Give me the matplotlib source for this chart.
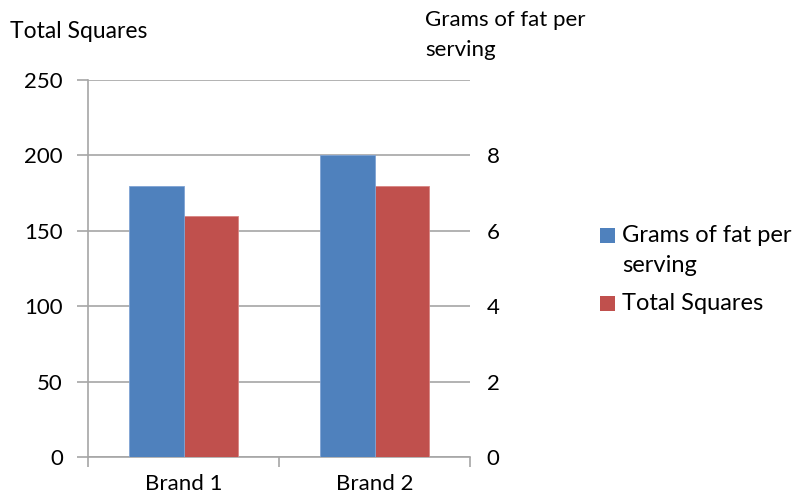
import matplotlib
matplotlib.use("Agg")
import matplotlib.pyplot as plt
from matplotlib.patches import Rectangle
import numpy as np

plt.rcParams['font.family'] = ['Lato', 'DejaVu Sans']

categories = ["Brand 1", "Brand 2"]
fat_grams = [7.2, 8.0]
total_squares = [160, 180]
left_ticks = [0, 50, 100, 150, 200, 250]
right_ticks = [0, 2, 4, 6, 8]
series_names = ["Grams of fat per\nserving", "Total Squares"]

blue = "#4F81BD"
red = "#C0504D"
grid_c = "#A6A6A6"
fs = 16
W, H = 794, 503

fig = plt.figure(figsize=(7.94, 5.03), dpi=100)
ax = fig.add_axes([88/W, 1-457/H, (470-88)/W, (457-80)/H])
ax2 = ax.twinx()

x = np.arange(len(categories))
w = 0.283
b1 = ax2.bar(x - w/2, fat_grams, w, color=blue, edgecolor="#7FA3D4", linewidth=0.6, zorder=3)
b2 = ax.bar(x + w/2, total_squares, w, color=red, edgecolor="#D98583", linewidth=0.6, zorder=3)

ax.set_xlim(-0.5, 1.5)
ax.set_ylim(0, 250)
ax.set_yticks(left_ticks)
ax.yaxis.grid(True, color=grid_c, linewidth=1.2, zorder=0)
ax.set_axisbelow(True)
ax2.set_ylim(0, 10)
ax2.set_yticks(right_ticks)

for a in (ax, ax2):
    for s in ("top", "right"):
        a.spines[s].set_visible(False)
ax2.spines["left"].set_visible(False)
ax2.spines["bottom"].set_visible(False)
ax.spines["left"].set_color(grid_c)
ax.spines["left"].set_linewidth(1.2)
ax.spines["bottom"].set_color(grid_c)
ax.spines["bottom"].set_linewidth(1.2)

ax.set_xticks([-0.5, 0.5, 1.5], minor=False)
ax.set_xticklabels(["", "", ""])
ax.set_xticks(x, minor=True)
ax.set_xticklabels(categories, minor=True, fontsize=fs)
ax.tick_params(axis="x", which="major", length=7, color=grid_c, width=1.2, direction="out")
ax.tick_params(axis="x", which="minor", length=0, pad=12)
ax.tick_params(axis="y", length=8, color=grid_c, width=1.2, labelsize=fs, pad=10)
ax2.tick_params(axis="y", length=0, labelsize=fs, pad=12)

fig.text(10/W, 1-31/H, "Total Squares", fontsize=fs+0.5, va="center", ha="left")
fig.text(425/W, 1-35/H, "Grams of fat per\nserving", fontsize=fs, va="center", ha="left", linespacing=1.6)

# legend (manual, to align the swatch with the first text line)
legend_items = [(series_names[0], blue, 228), (series_names[1], red, 296)]
for name, col, ytop in legend_items:
    fig.patches.append(Rectangle((600/W, 1-(ytop+15)/H), 15/W, 15/H, transform=fig.transFigure,
                                 facecolor=col, edgecolor="none"))
    fig.text(622/W, 1-(ytop+7)/H, name.split("\n")[0], fontsize=17, va="center", ha="left")
    if "\n" in name:
        fig.text(622/W, 1-(ytop+37)/H, name.split("\n")[1], fontsize=17, va="center", ha="left")

fig.savefig("out.png", dpi=100)
